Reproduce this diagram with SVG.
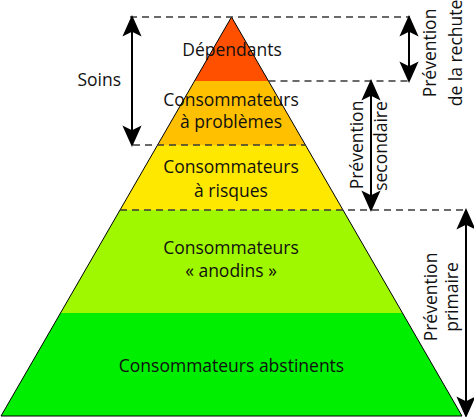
<svg xmlns="http://www.w3.org/2000/svg" width="474" height="417" viewBox="0 0 474 417">
  <style>
    .lbl { font-family: "Open Sans", "Liberation Sans", sans-serif; font-size: 17.5px; fill: #111; text-anchor: middle; }
    .band { stroke: none; }
    .dash { stroke: #3a3a3a; stroke-width: 1.3; stroke-dasharray: 7 5; fill: none; }
    .arrow { stroke: #000; stroke-width: 2; fill: none; marker-start: url(#ah); marker-end: url(#ah); }
  </style>
  <defs>
    <marker id="ah" markerUnits="userSpaceOnUse" markerWidth="30" markerHeight="30" viewBox="-10 -10 25 20" refX="0" refY="0" orient="auto-start-reverse" overflow="visible">
      <path d="M10,0 L-8,-8 L-4,0 L-8,8 Z" fill="#000"/>
    </marker>
  </defs>
  <rect width="474" height="417" fill="#fff"/>

  <g id="abstinents">
    <polygon class="band" points="60.5,313 402.5,313 462,416 1,416" fill="#00ee00"/>
    <text class="lbl" x="231.5" y="372">Consommateurs abstinents</text>
  </g>
  <g id="anodins">
    <polygon class="band" points="120,210 343,210 402.5,313 60.5,313" fill="#a0f800"/>
    <text class="lbl" x="231" y="254">Consommateurs</text>
    <text class="lbl" x="231" y="277">« anodins »</text>
  </g>
  <g id="risques">
    <polygon class="band" points="157.6,145 305.4,145 343,210 120,210" fill="#ffe800"/>
    <text class="lbl" x="231" y="173">Consommateurs</text>
    <text class="lbl" x="231" y="197">à risques</text>
  </g>
  <g id="problemes">
    <polygon class="band" points="194.5,81 268.5,81 305.4,145 157.6,145" fill="#ffc000"/>
    <text class="lbl" x="231" y="106">Consommateurs</text>
    <text class="lbl" x="231" y="128">à problèmes</text>
  </g>
  <g id="dependants">
    <polygon class="band" points="231.5,17 268.5,81 194.5,81" fill="#ff5000"/>
    <text class="lbl" x="232" y="56">Dépendants</text>
  </g>
  <polygon points="231.5,17 462,416 1,416" fill="none" stroke="#000" stroke-width="1"/>

  <g id="connectors">
    <line class="dash" x1="130" y1="17" x2="410" y2="17"/>
    <line class="dash" x1="268.5" y1="81" x2="410" y2="81"/>
    <line class="dash" x1="133" y1="145" x2="305.4" y2="145"/>
    <line class="dash" x1="120" y1="210" x2="468" y2="210"/>
    <line class="arrow" x1="132" y1="27" x2="132" y2="135"/>
    <line class="arrow" x1="409" y1="27" x2="409" y2="71"/>
    <line class="arrow" x1="371" y1="91" x2="371" y2="200"/>
    <line class="arrow" x1="466" y1="220" x2="466" y2="406"/>
  </g>

  <g id="soins">
    <text class="lbl" x="121" y="86" style="text-anchor:end">Soins</text>
  </g>
  <g id="prevention-rechute">
    <text class="lbl" transform="translate(436,53) rotate(-90)">Prévention</text>
    <text class="lbl" transform="translate(462,53) rotate(-90)">de la rechute</text>
  </g>
  <g id="prevention-secondaire">
    <text class="lbl" transform="translate(363,145) rotate(-90)">Prévention</text>
    <text class="lbl" transform="translate(387,146) rotate(-90)">secondaire</text>
  </g>
  <g id="prevention-primaire">
    <text class="lbl" transform="translate(437,297) rotate(-90)">Prévention</text>
    <text class="lbl" transform="translate(458,297) rotate(-90)">primaire</text>
  </g>
</svg>
